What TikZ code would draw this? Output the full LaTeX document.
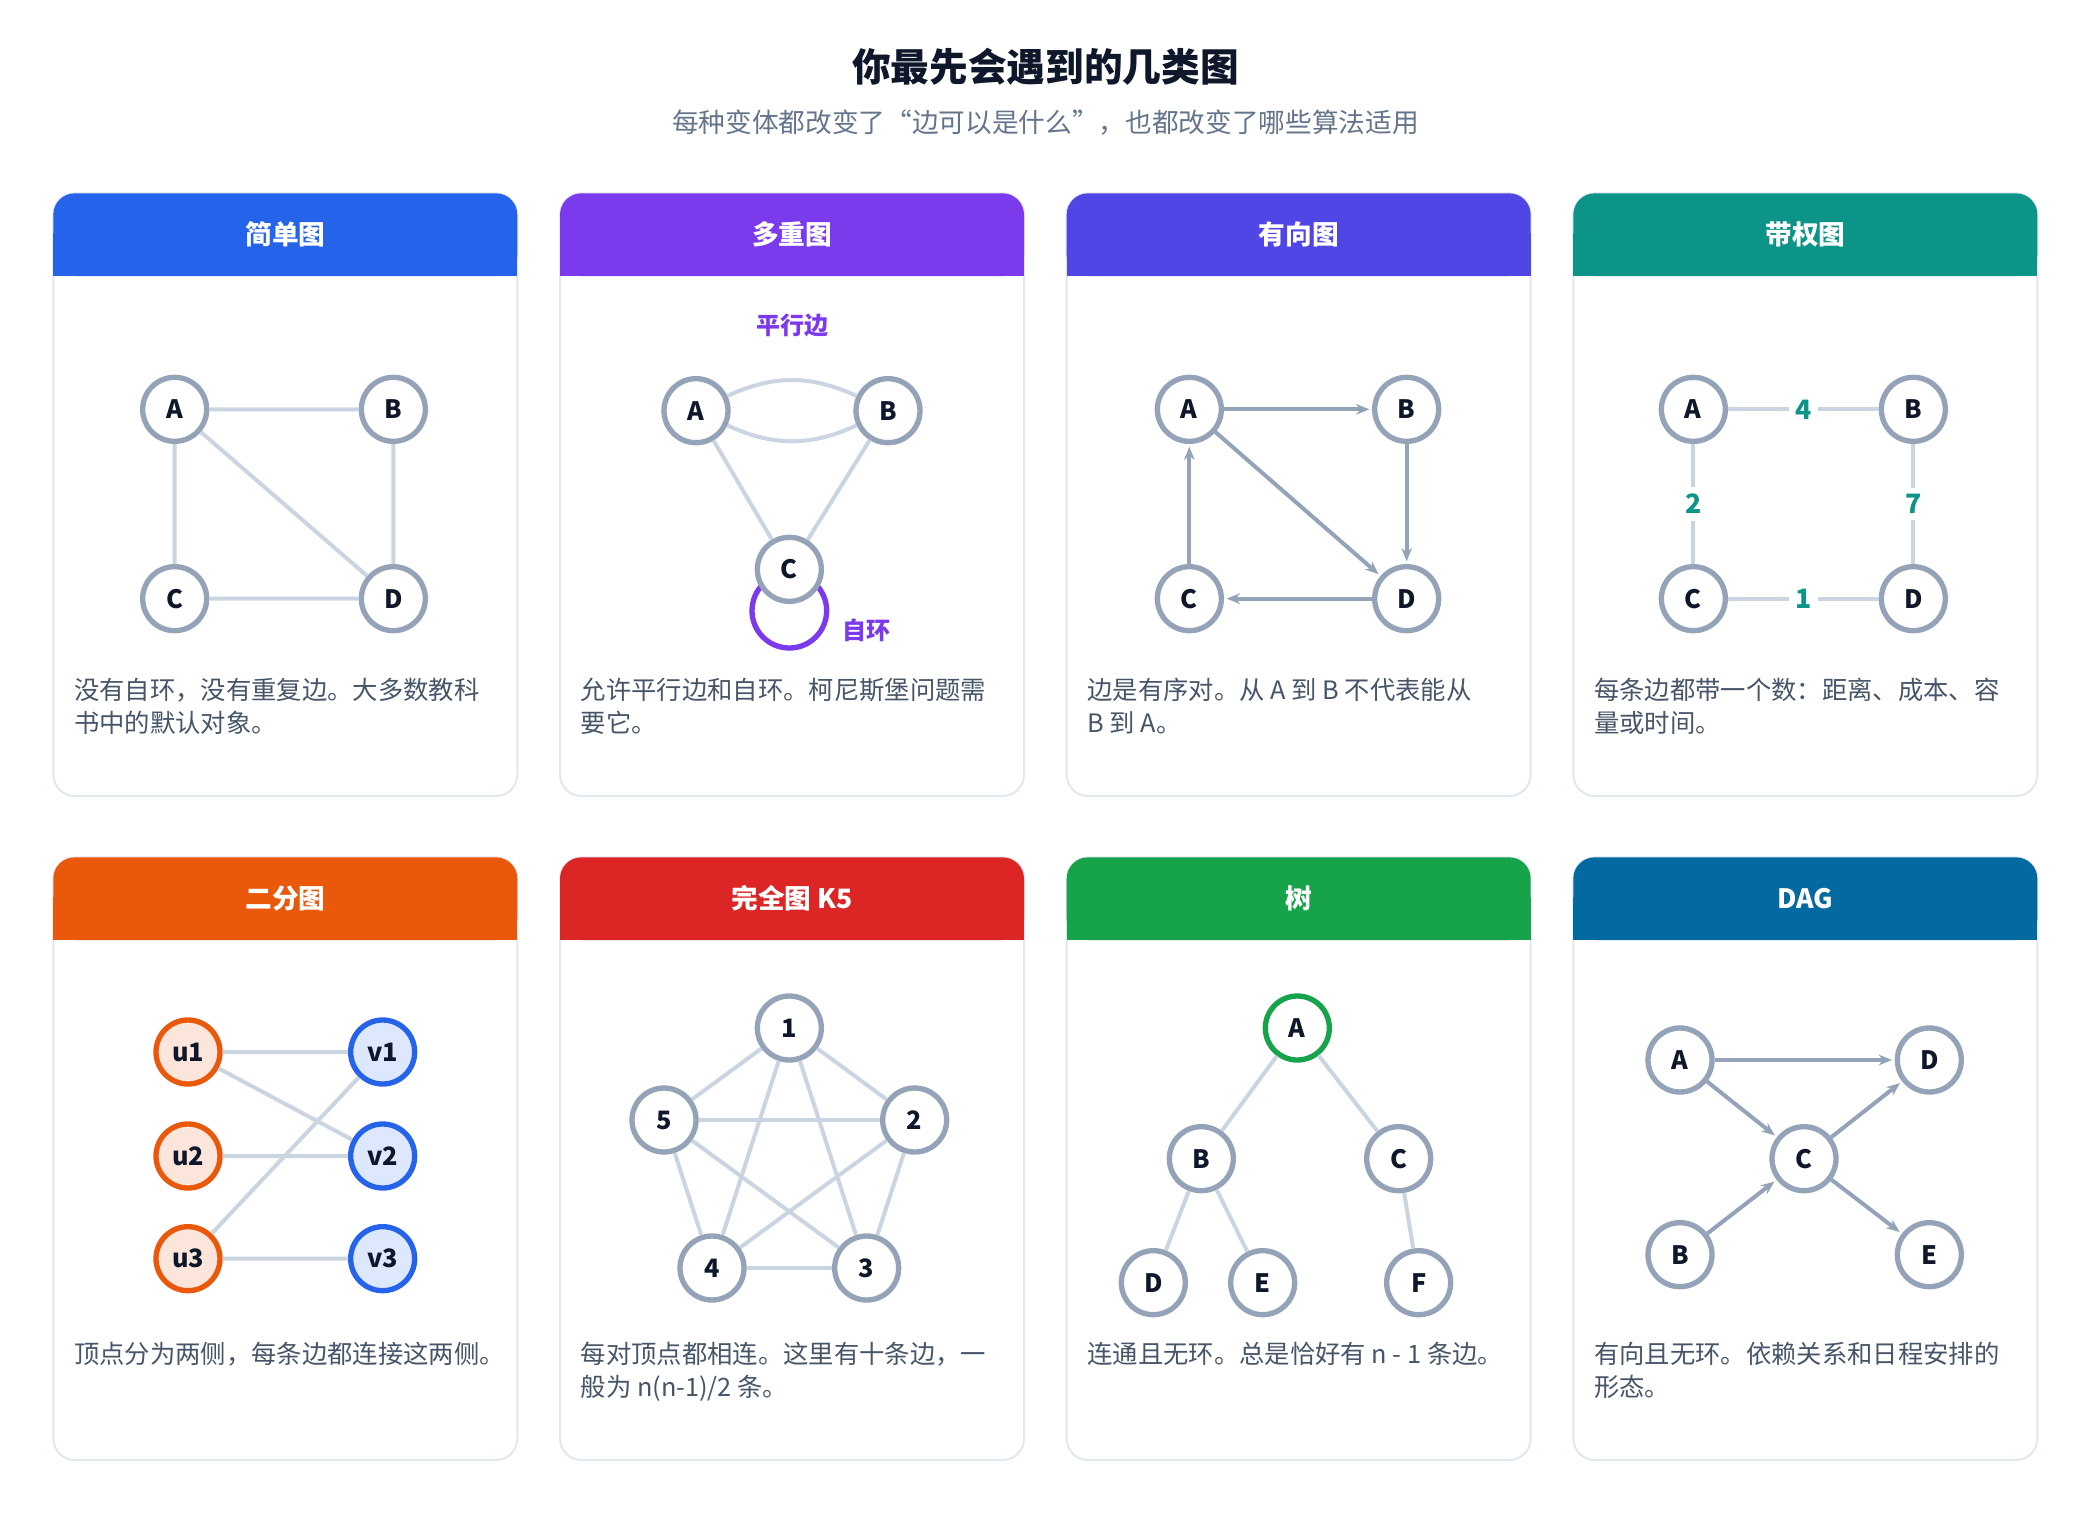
\documentclass[tikz,border=0pt]{standalone}
\usepackage{fontspec}
\setmainfont{Noto Sans CJK SC}
\usetikzlibrary{arrows.meta}
\definecolor{ink}{HTML}{0F172A}
\definecolor{muted}{HTML}{64748B}
\definecolor{body}{HTML}{475569}
\definecolor{rim}{HTML}{E2E8F0}
\definecolor{vline}{HTML}{94A3B8}
\definecolor{eline}{HTML}{CBD5E1}
\definecolor{cblue}{HTML}{2563EB}
\definecolor{cpurple}{HTML}{7C3AED}
\definecolor{cindigo}{HTML}{4F46E5}
\definecolor{cteal}{HTML}{0D9488}
\definecolor{corange}{HTML}{EA580C}
\definecolor{cred}{HTML}{DC2626}
\definecolor{cgreen}{HTML}{16A34A}
\definecolor{cdag}{HTML}{0369A1}
\newcommand{\gcard}[4]{%
  \draw[rim, line width=1.5pt, fill=white, rounded corners=16pt] (#1,#2) rectangle ++(348,452);
  \fill[#3, rounded corners=16pt] (#1,#2) rectangle ++(348,62);
  \fill[#3] (#1,#2+30) rectangle ++(348,32);
  \node[font=\bfseries\fontsize{20}{24}\selectfont, text=white] at (#1+174,#2+31) {#4};}
\begin{document}
\begin{tikzpicture}[x=1pt, y=-1pt,
    vert/.style={circle, draw=vline, fill=white, line width=4pt, minimum size=48pt, inner sep=0pt,
      font=\bfseries\fontsize{19}{22}\selectfont, text=ink},
    edge/.style={eline, line width=3pt},
    arc/.style={vline, line width=3pt, -{Stealth[length=10pt,width=8pt]}, shorten >=2pt},
    desc/.style={anchor=north west, align=left, text=body, font=\fontsize{19}{25}\selectfont},
    wlabel/.style={fill=white, text=cteal, font=\bfseries\fontsize{20}{24}\selectfont, inner sep=5pt}
]
\useasboundingbox (0,0) rectangle (1560,1140);
\node[font=\bfseries\fontsize{29}{34}\selectfont, text=ink] (title) at (784,50) {你最先会遇到的几类图};
\node[font=\fontsize{20}{24}\selectfont, text=muted] (subtitle) at (784,92) {每种变体都改变了“边可以是什么”，也都改变了哪些算法适用};

% Cards
\gcard{40}{145}{cblue}{简单图}
\gcard{420}{145}{cpurple}{多重图}
\gcard{800}{145}{cindigo}{有向图}
\gcard{1180}{145}{cteal}{带权图}
\gcard{40}{643}{corange}{二分图}
\gcard{420}{643}{cred}{完全图 K5}
\gcard{800}{643}{cgreen}{树}
\gcard{1180}{643}{cdag}{DAG}

% Simple graph
\node[vert] (sa) at (131,307) {A};
\node[vert] (sb) at (295,307) {B};
\node[vert] (sc) at (131,449) {C};
\node[vert] (sd) at (295,449) {D};
\draw[edge] (sa) -- (sb) (sa) -- (sc) (sa) -- (sd) (sb) -- (sd) (sc) -- (sd);
\node[desc] (sdesc) at (52,505) {没有自环，没有重复边。大多数教科\\书中的默认对象。};

% Multigraph
\node[vert] (ma) at (522,308) {A};
\node[vert] (mb) at (666,308) {B};
\draw[cpurple, line width=4pt] (592,458) circle (28);
\node[vert] (mc) at (592,427) {C};
\draw[edge] (ma) to[bend left=25] (mb);
\draw[edge] (ma) to[bend right=25] (mb);
\draw[edge] (ma) -- (mc) (mb) -- (mc);
\node[text=cpurple, font=\bfseries\fontsize{18}{22}\selectfont] (mpar) at (594,244) {平行边};
\node[text=cpurple, font=\bfseries\fontsize{18}{22}\selectfont] (mloop) at (650,473) {自环};
\node[desc] (mdesc) at (432,505) {允许平行边和自环。柯尼斯堡问题需\\要它。};

% Directed graph
\node[vert] (da) at (892,307) {A};
\node[vert] (db) at (1055,307) {B};
\node[vert] (dc) at (892,449) {C};
\node[vert] (dd) at (1055,449) {D};
\draw[arc] (da) -- (db);
\draw[arc] (db) -- (dd);
\draw[arc] (da) -- (dd);
\draw[arc] (dd) -- (dc);
\draw[arc] (dc) -- (da);
\node[desc] (ddesc) at (812,505) {边是有序对。从 A 到 B 不代表能从\\B 到 A。};

% Weighted graph
\node[vert] (wa) at (1270,307) {A};
\node[vert] (wb) at (1435,307) {B};
\node[vert] (wc) at (1270,449) {C};
\node[vert] (wd) at (1435,449) {D};
\draw[edge] (wa) -- node[wlabel] {4} (wb);
\draw[edge] (wa) -- node[wlabel] {2} (wc);
\draw[edge] (wb) -- node[wlabel] {7} (wd);
\draw[edge] (wc) -- node[wlabel] {1} (wd);
\node[desc] (wdesc) at (1192,505) {每条边都带一个数：距离、成本、容\\量或时间。};

% Bipartite graph
\foreach \i/\y in {1/789,2/867,3/944}{
  \node[vert, draw=corange, fill=corange!15] (u\i) at (141,\y) {u\i};
  \node[vert, draw=cblue, fill=cblue!15] (v\i) at (287,\y) {v\i};
}
\draw[edge] (u1) -- (v1) (u1) -- (v2) (u2) -- (v2) (u3) -- (v1) (u3) -- (v3);
\node[desc] (bdesc) at (52,1003) {顶点分为两侧，每条边都连接这两侧。};

% Complete graph
\node[vert] (k1) at (592,771) {1};
\node[vert] (k2) at (686,840) {2};
\node[vert] (k3) at (650,951) {3};
\node[vert] (k4) at (534,951) {4};
\node[vert] (k5) at (498,840) {5};
\foreach \a/\b in {1/2,1/3,1/4,1/5,2/3,2/4,2/5,3/4,3/5,4/5}
  \draw[edge] (k\a) -- (k\b);
\node[desc] (kdesc) at (432,1003) {每对顶点都相连。这里有十条边，一\\般为 n(n-1)/2 条。};

% Tree
\node[vert, draw=cgreen] (ta) at (973,771) {A};
\node[vert] (tb) at (901,869) {B};
\node[vert] (tc) at (1049,869) {C};
\node[vert] (td) at (865,962) {D};
\node[vert] (te) at (947,962) {E};
\node[vert] (tf) at (1064,962) {F};
\draw[edge] (ta) -- (tb) (ta) -- (tc) (tb) -- (td) (tb) -- (te) (tc) -- (tf);
\node[desc] (tdesc) at (812,1003) {连通且无环。总是恰好有 n - 1 条边。};

% DAG
\node[vert] (ga) at (1260,795) {A};
\node[vert] (gd) at (1447,795) {D};
\node[vert] (gc) at (1353,869) {C};
\node[vert] (gb) at (1260,941) {B};
\node[vert] (ge) at (1447,941) {E};
\draw[arc] (ga) -- (gd);
\draw[arc] (ga) -- (gc);
\draw[arc] (gb) -- (gc);
\draw[arc] (gc) -- (gd);
\draw[arc] (gc) -- (ge);
\node[desc] (gdesc) at (1192,1003) {有向且无环。依赖关系和日程安排的\\形态。};
\end{tikzpicture}
\end{document}
